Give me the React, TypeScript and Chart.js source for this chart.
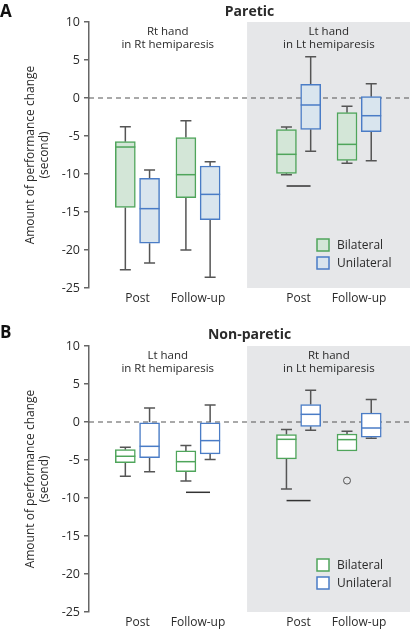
import React, { useEffect, useRef } from 'react';
import { Chart, registerables } from 'chart.js';

Chart.register(...registerables);

// ---------- data ----------
const categories = ['Post', 'Follow-up', 'Post', 'Follow-up'];
const categoryX = [1, 2, 3.66, 4.66];
const seriesNames = ['Bilateral', 'Unilateral'];
const yTicks = [10, 5, 0, -5, -10, -15, -20, -25];

// box stats: [min, q1, median, q3, max]
const pareticBilateral = [
  [-22.6, -14.4, -6.45, -5.75, -3.78],
  [-20.0, -13.1, -10.09, -5.2, -2.98],
  [-10.09, -9.91, -7.41, -4.17, -3.82],
  [-8.6, -8.2, -6.1, -1.93, -1.1],
];
const pareticUnilateral = [
  [-21.7, -19.1, -14.56, -10.57, -9.47],
  [-23.6, -16.0, -12.68, -8.95, -8.38],
  [-7.0, -4.12, -0.92, 1.8, 5.43],
  [-8.25, -4.43, -2.33, 0.18, 1.89],
];
const pareticMarkers = [{ cat: 2, value: -11.58 }];
const pareticOutliers: { cat: number; series: number; value: number }[] = [];

const nonPareticBilateral = [
  [-7.14, -5.35, -4.51, -3.64, -3.33],
  [-7.76, -6.55, -5.22, -3.8, -3.1],
  [-8.8, -4.86, -2.28, -1.66, -1.0],
  [-3.82, -3.82, -2.32, -1.58, -1.22],
];
const nonPareticUnilateral = [
  [-6.53, -4.69, -3.2, 0, 1.84],
  [-4.95, -4.2, -2.45, 0, 2.24],
  [-1.09, -0.57, 1.01, 2.29, 4.17],
  [-2.14, -2.01, -0.79, 1.18, 2.95],
];
const nonPareticMarkers = [
  { cat: 1, value: -9.25 },
  { cat: 2, value: -10.34 },
];
const nonPareticOutliers = [{ cat: 3, series: 0, value: -7.71 }];

const pareticGroups = [
  ['Rt hand', 'in Rt hemiparesis'],
  ['Lt hand', 'in Lt hemiparesis'],
];
const nonPareticGroups = [
  ['Lt hand', 'in Rt hemiparesis'],
  ['Rt hand', 'in Lt hemiparesis'],
];
const yTitle = ['Amount of performance change', '(second)'];
const shadedFrom = 2.81;

// ---------- styles ----------
const FONT = '"Open Sans", "DejaVu Sans", sans-serif';
const GREEN = '#4fa55b';
const BLUE = '#4a7cc6';
const WHISKER = '#555555';
const TEXT = '#2a2a2a';
const SHADE = '#e6e7e9';
const OFFSET = 0.2;
const BOX_W = 20;
const CAP_W = 11;
const CANVAS_H = 316;

type Panel = {
  letter: string;
  title: string;
  bil: number[][];
  uni: number[][];
  markers: { cat: number; value: number }[];
  outliers: { cat: number; series: number; value: number }[];
  groups: string[][];
  fills: string[];
  letterY: number;
  titleY: number;
  legendY: number;
};

const panels: Panel[] = [
  {
    letter: 'A',
    title: 'Paretic',
    bil: pareticBilateral,
    uni: pareticUnilateral,
    markers: pareticMarkers,
    outliers: pareticOutliers,
    groups: pareticGroups,
    fills: ['#d3e6d7', '#d9e5ee'],
    letterY: 12,
    titleY: 12,
    legendY: 239,
  },
  {
    letter: 'B',
    title: 'Non-paretic',
    bil: nonPareticBilateral,
    uni: nonPareticUnilateral,
    markers: nonPareticMarkers,
    outliers: nonPareticOutliers,
    groups: nonPareticGroups,
    fills: ['#ffffff', '#ffffff'],
    letterY: 9,
    titleY: 11,
    legendY: 235,
  },
];

function buildConfig(p: Panel): any {
  const series = [p.bil, p.uni];
  const colors = [GREEN, BLUE];
  const offsets = [-OFFSET, OFFSET];

  const boxPlugin = {
    id: 'boxExtras',
    beforeDatasetsDraw(chart: any) {
      const { ctx, chartArea, scales } = chart;
      const xs = scales.x;
      const ys = scales.y;
      ctx.save();
      // shaded region
      const sx = xs.getPixelForValue(shadedFrom);
      ctx.fillStyle = SHADE;
      ctx.fillRect(sx, chartArea.top, chartArea.right - sx, chartArea.bottom - chartArea.top);
      // zero dashed line
      const y0 = ys.getPixelForValue(0);
      ctx.strokeStyle = '#555';
      ctx.lineWidth = 1.2;
      ctx.setLineDash([5, 4]);
      ctx.beginPath();
      ctx.moveTo(chartArea.left, y0);
      ctx.lineTo(chartArea.right, y0);
      ctx.stroke();
      ctx.setLineDash([]);
      // whiskers
      ctx.strokeStyle = WHISKER;
      ctx.lineWidth = 1.5;
      series.forEach((s, si) => {
        s.forEach((st, ci) => {
          const cx = xs.getPixelForValue(categoryX[ci] + offsets[si]);
          const pairs = [
            [st[3], st[4]],
            [st[1], st[0]],
          ];
          pairs.forEach(([from, to]) => {
            if (Math.abs(from - to) < 0.05) return;
            const a = ys.getPixelForValue(from);
            const b = ys.getPixelForValue(to);
            ctx.beginPath();
            ctx.moveTo(cx, a);
            ctx.lineTo(cx, b);
            ctx.moveTo(cx - CAP_W / 2, b);
            ctx.lineTo(cx + CAP_W / 2, b);
            ctx.stroke();
          });
        });
      });
      ctx.restore();
    },
    afterDatasetsDraw(chart: any) {
      const { ctx, scales } = chart;
      const xs = scales.x;
      const ys = scales.y;
      ctx.save();
      ctx.lineWidth = 1.5;
      series.forEach((s, si) => {
        ctx.strokeStyle = colors[si];
        s.forEach((st, ci) => {
          const cx = xs.getPixelForValue(categoryX[ci] + offsets[si]);
          const y = ys.getPixelForValue(st[2]);
          ctx.beginPath();
          ctx.moveTo(cx - BOX_W / 2, y);
          ctx.lineTo(cx + BOX_W / 2, y);
          ctx.stroke();
        });
      });
      ctx.restore();
    },
    afterDraw(chart: any) {
      const { ctx, chartArea, scales } = chart;
      const xs = scales.x;
      ctx.save();
      ctx.fillStyle = '#111';
      ctx.textBaseline = 'middle';
      ctx.textAlign = 'left';
      ctx.font = `bold 17px ${FONT}`;
      ctx.fillText(p.letter, 0, p.letterY);
      ctx.fillStyle = TEXT;
      ctx.textAlign = 'center';
      ctx.font = `bold 14px ${FONT}`;
      ctx.fillText(p.title, (chartArea.left + chartArea.right) / 2, p.titleY);
      // category labels
      ctx.font = `12px ${FONT}`;
      categories.forEach((c, i) => {
        ctx.fillText(c, xs.getPixelForValue(categoryX[i]), chartArea.bottom + 11);
      });
      // group labels
      ctx.font = `11.5px ${FONT}`;
      p.groups.forEach((g, gi) => {
        const cx = (xs.getPixelForValue(categoryX[gi * 2]) + xs.getPixelForValue(categoryX[gi * 2 + 1])) / 2;
        ctx.fillText(g[0], cx, 32);
        ctx.fillText(g[1], cx, 45);
      });
      // y title
      const midY = (chartArea.top + chartArea.bottom) / 2;
      ctx.font = `12px ${FONT}`;
      [31, 45].forEach((x, i) => {
        ctx.save();
        ctx.translate(x, midY);
        ctx.rotate(-Math.PI / 2);
        ctx.fillText(yTitle[i], 0, 0);
        ctx.restore();
      });
      // legend
      ctx.textAlign = 'left';
      ctx.font = `12px ${FONT}`;
      seriesNames.forEach((name, i) => {
        const y = p.legendY + i * 18;
        ctx.fillStyle = p.fills[i];
        ctx.fillRect(317, y, 12, 12);
        ctx.strokeStyle = colors[i];
        ctx.lineWidth = 1.5;
        ctx.strokeRect(317, y, 12, 12);
        ctx.fillStyle = TEXT;
        ctx.fillText(name, 337, y + 6.5);
      });
      ctx.restore();
    },
  };

  const datasets: any[] = series.map((s, si) => ({
    type: 'bar',
    label: seriesNames[si],
    data: s.map((st, ci) => ({ x: categoryX[ci] + offsets[si], y: [st[1], st[3]] })),
    backgroundColor: p.fills[si],
    borderColor: colors[si],
    borderWidth: 1.5,
    borderSkipped: false,
    barThickness: BOX_W,
    grouped: false,
  }));
  datasets.push({
    type: 'scatter',
    label: 'markers',
    data: p.markers.map((m) => ({ x: categoryX[m.cat], y: m.value })),
    pointStyle: 'line',
    radius: 12,
    borderColor: '#333',
    borderWidth: 1.5,
  });
  datasets.push({
    type: 'scatter',
    label: 'outliers',
    data: p.outliers.map((o) => ({ x: categoryX[o.cat] + offsets[o.series], y: o.value })),
    pointStyle: 'circle',
    radius: 3.5,
    backgroundColor: 'rgba(0,0,0,0)',
    borderColor: '#555',
    borderWidth: 1,
  });

  return {
    type: 'bar',
    data: { datasets },
    plugins: [boxPlugin],
    options: {
      responsive: false,
      animation: false,
      layout: { autoPadding: false, padding: { top: 22, right: 1, bottom: CANVAS_H - 288, left: 0 } },
      plugins: { legend: { display: false }, tooltip: { enabled: false } },
      scales: {
        x: {
          type: 'linear',
          display: false,
          min: 0.2,
          max: 5.5,
          offset: false,
        },
        y: {
          type: 'linear',
          min: -25,
          max: 10,
          afterBuildTicks: (s: any) => {
            s.ticks = yTicks.map((v) => ({ value: v }));
          },
          afterFit: (s: any) => {
            s.width = 89;
          },
          grid: { drawOnChartArea: false, drawTicks: true, tickLength: 5, color: '#666', lineWidth: 1.5 },
          border: { display: true, color: '#666', width: 1.5 },
          ticks: { padding: 4, color: TEXT, font: { family: FONT, size: 12.5 } },
        },
      },
    },
  };
}

function PanelChart({ panel, top }: { panel: Panel; top: number }) {
  const ref = useRef<HTMLCanvasElement>(null);
  useEffect(() => {
    const chart = new Chart(ref.current as HTMLCanvasElement, buildConfig(panel));
    return () => chart.destroy();
  }, [panel]);
  return (
    <div style={{ position: 'absolute', left: 0, top, width: 411, height: CANVAS_H }}>
      <canvas ref={ref} width={411} height={CANVAS_H} style={{ display: 'block' }} />
    </div>
  );
}

export default function App() {
  return (
    <div style={{ position: 'fixed', left: 0, top: 0, width: 411, height: 630, background: '#fff', overflow: 'hidden' }}>
      <PanelChart panel={panels[1]} top={324} />
      <PanelChart panel={panels[0]} top={0} />
    </div>
  );
}
